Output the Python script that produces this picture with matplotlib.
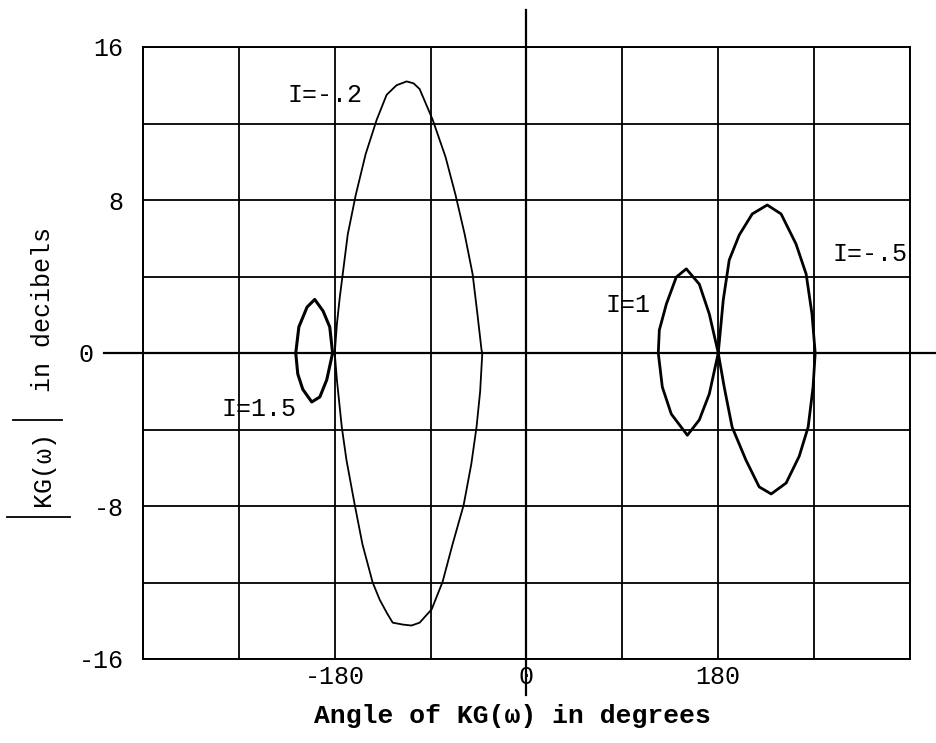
import numpy as np
import matplotlib.pyplot as plt
from matplotlib.lines import Line2D

plt.rcParams['font.family'] = ['Liberation Mono', 'DejaVu Sans Mono']

# gain/phase loops, angle in degrees, magnitude in dB (traced around each loop)
ang_15 = [-182, -184.7, -191, -198.8, -206, -213.7, -216.6, -214.7, -210, -201.6, -194, -187.5]
db_15 = [0, 1.36, 2.2, 2.8, 2.4, 1.36, 0, -1.1, -1.9, -2.56, -2.3, -1.4]

ang_02 = [-180, -178, -175.3, -172.5, -167.8, -160.3, -151, -140.6, -131.3, -122, -112.5,
          -106, -100.3, -88.1, -76, -66.6, -58, -50.6, -46, -42.2,
          -41.5, -43.5, -46.9, -51.8, -59, -69.4, -78.8, -89, -100.3, -108, -116, -125.6,
          -131, -137.8, -144.4, -154, -161.2, -169, -173.4, -178]
db_02 = [0, 1.5, 2.9, 4.13, 6.2, 8.26, 10.4, 12.2, 13.5, 14.0, 14.2,
         14.1, 13.8, 12.2, 10.25, 8.26, 6.2, 4.13, 2.0, 0.15,
         0, -2.0, -3.87, -5.8, -7.95, -10, -11.97, -13.4, -14.1, -14.25, -14.2, -14.1,
         -13.6, -12.9, -12.0, -10, -7.95, -5.6, -3.87, -1.4]

ang_1 = [180, 171.6, 162.2, 150, 140.6, 131.3, 124.7, 123.7, 127.5, 135.9, 151, 162.2, 171.6]
db_1 = [0, 2.04, 3.6, 4.4, 3.97, 2.56, 1.2, 0, -1.78, -3.19, -4.3, -3.5, -2.14]

ang_05 = [180, 184.7, 190.3, 199.7, 211.9, 226, 239, 253, 262.5, 268, 271, 269, 264.4, 256,
          243.7, 229.7, 218.4, 206, 193, 185.6]
db_05 = [0, 2.77, 4.86, 6.17, 7.27, 7.74, 7.27, 5.7, 4.13, 2.04, 0, -1.78, -3.87, -5.4,
         -6.8, -7.37, -7.0, -5.6, -3.87, -1.78]

x_ticks = [-360, -270, -180, -90, 0, 90, 180, 270, 360]
x_tick_labels = ['', '', '-180', '', '0', '', '180', '', '']
y_ticks = [-16, -12, -8, -4, 0, 4, 8, 12, 16]
y_tick_labels = ['-16', '', '-8', '', '0  ', '', '8', '', '16']

fig = plt.figure(figsize=(9.37, 7.43), dpi=100)
ax = fig.add_axes([143 / 937, 1 - 659 / 743, 767 / 937, 612 / 743])


def loop(a, d, lw):
    a = np.append(a, a[0])
    d = np.append(d, d[0])
    ax.plot(a, d, color='black', lw=lw, solid_joinstyle='round', zorder=3)


loop(ang_02, db_02, 1.3)
loop(ang_15, db_15, 2.2)
loop(ang_1, db_1, 2.0)
loop(ang_05, db_05, 2.0)

ax.set_xlim(-360, 360)
ax.set_ylim(-16, 16)
ax.set_xticks(x_ticks)
ax.set_xticklabels(x_tick_labels, fontsize=18)
ax.set_yticks(y_ticks)
ax.set_yticklabels(y_tick_labels, fontsize=18)
ax.tick_params(axis='x', length=0, pad=4)
ax.tick_params(axis='y', length=0, pad=14)
ax.grid(color='black', lw=1.3)
for s in ax.spines.values():
    s.set_linewidth(1.4)

# axes through the origin run past the grid
ax.axhline(0, xmin=-0.051, xmax=1.035, color='black', lw=1.6, clip_on=False)
ax.axvline(0, ymin=-0.059, ymax=1.06, color='black', lw=1.6, clip_on=False)

lbl = dict(fontsize=18, color='black', zorder=4)
ax.text(-224, 13.5, 'I=-.2', va='center', ha='left', **lbl)
ax.text(74, 2.5, 'I=1', va='center', ha='left', **lbl)
ax.text(287, 5.2, 'I=-.5', va='center', ha='left', **lbl)
ax.text(-286, -2.95, 'I=1.5', va='center', ha='left', **lbl)

fig.text(512 / 937, 1 - 716 / 743, 'Angle of KG(ω) in degrees', ha='center', va='center',
         fontsize=19, fontweight='bold')
fig.text(43 / 937, 1 - 310 / 743, 'in decibels', rotation=90, ha='center', va='center',
         fontsize=18)
fig.text(43 / 937, 1 - 468 / 743, 'KG(ω)', rotation=90, ha='center', va='center',
         fontsize=18)
for yb, x0, x1 in [(420, 13, 62), (517, 7, 70)]:
    fig.add_artist(Line2D([x0 / 937, x1 / 937], [1 - yb / 743, 1 - yb / 743],
                          color='black', lw=1.3))

fig.savefig('out.png', dpi=100)
